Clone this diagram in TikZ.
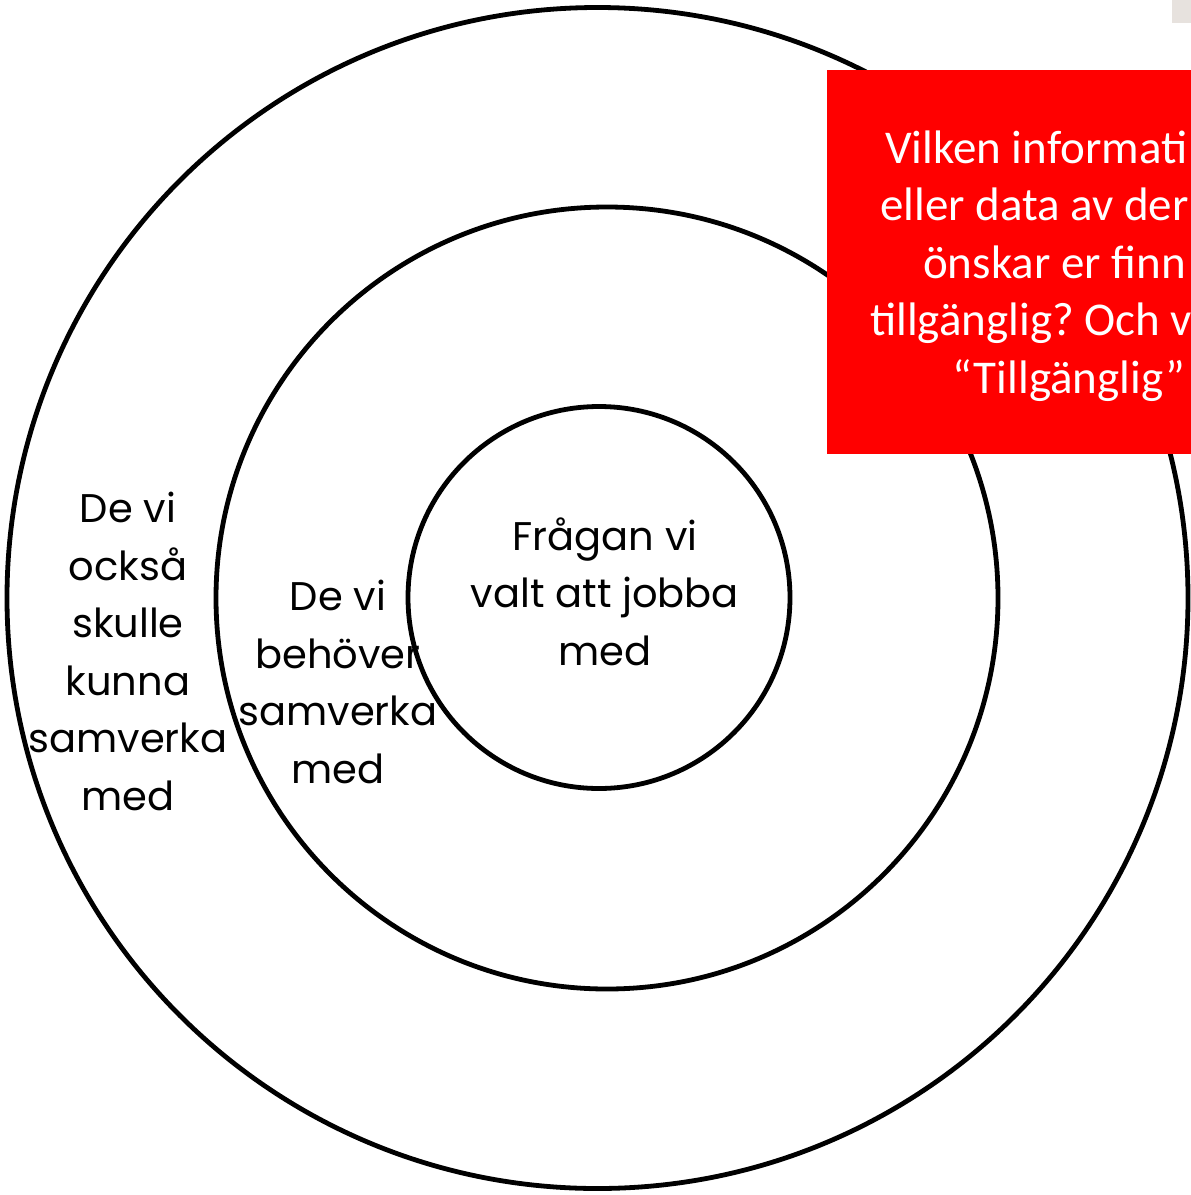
\documentclass[tikz,border=0pt]{standalone}
\usepackage{fontspec}
\newfontfamily\boxfont{Carlito}
\newfontfamily\handfont{Poppins}
\definecolor{boxred}{RGB}{255,0,0}
\definecolor{tabgrey}{RGB}{231,226,222}
\frenchspacing
\begin{document}
\begin{tikzpicture}[x=1pt,y=-1pt,
  ring/.style={draw=black,line width=4.8pt},
  hand/.style={font=\handfont\fontsize{40}{57.5}\selectfont,align=center,inner sep=0pt,anchor=base},
  boxline/.style={font=\boxfont\fontsize{47}{57.5}\selectfont,text=white,anchor=base west,inner sep=0pt}]
\useasboundingbox (0,0) rectangle (1191,1195);
\fill[white] (0,0) rectangle (1191,1195);
% rings
\coordinate (co) at (597.5,598);
\coordinate (cm) at (607,598);
\coordinate (ci) at (599,597.5);
\draw[ring] (co) circle[radius=590.5];
\draw[ring] (cm) circle[radius=391];
\draw[ring] (ci) circle[radius=191];
% labels (anchor = baseline of the last line)
\node[hand] (inner) at (605,665) {Frågan vi\\valt att jobba\\med};
\node[hand] (middle) at (338,783) {De vi\\behöver\\samverka\\med};
\node[hand] (outer) at (128,810) {De vi\\också\\skulle\\kunna\\samverka\\med};
% red box
\fill[boxred] (827,70) rectangle (1191,454);
\fill[tabgrey] (1172,0) rectangle (1191,23);
\node[boxline] (q1) at (885,163) {Vilken informati};
\node[boxline] (q2) at (880,220.5) {eller data av der};
\node[boxline] (q3) at (923,278) {önskar er finn};
\node[boxline] (q4) at (870,335.5) {tillgänglig? Och v};
\node[boxline] (q5) at (952,393) {“Tillgänglig”};
\end{tikzpicture}
\end{document}
